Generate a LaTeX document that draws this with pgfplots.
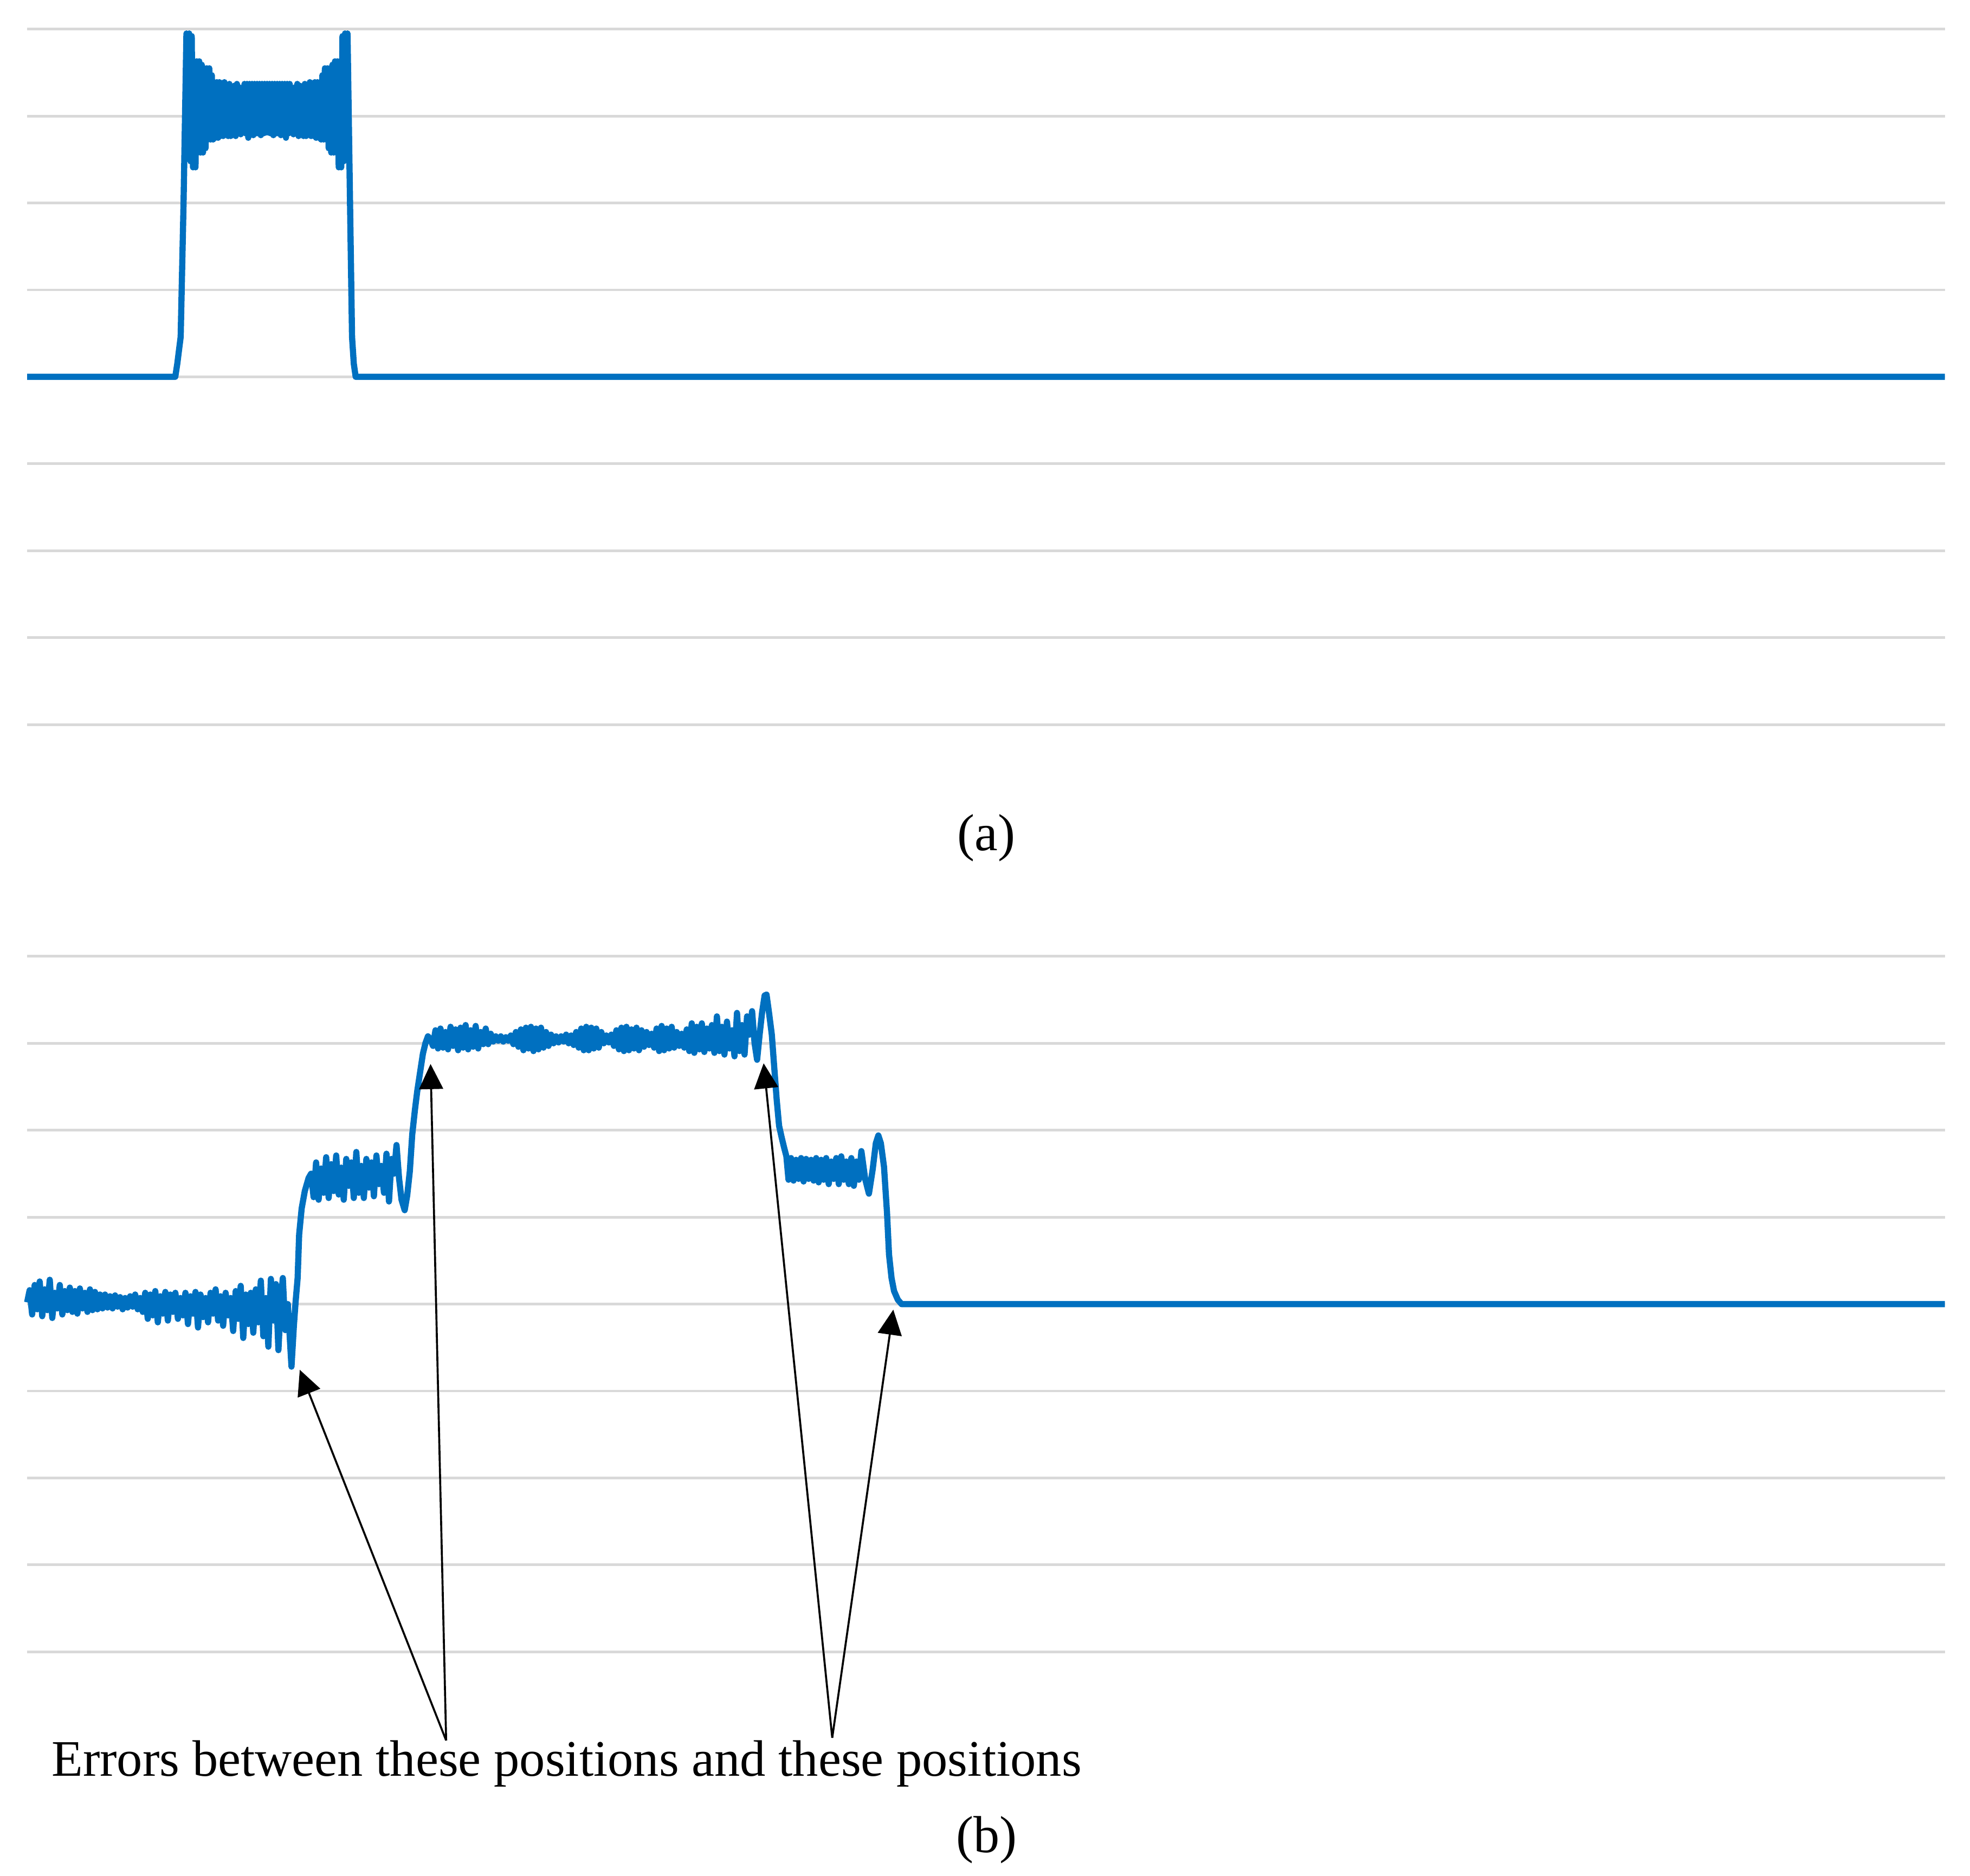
\documentclass[border=0pt]{standalone}
\usepackage{fontspec}
\setmainfont{Liberation Serif}
\usepackage{pgfplots}
\pgfplotsset{compat=1.18}
\usetikzlibrary{arrows.meta}
\definecolor{sigblue}{RGB}{0,112,192}
\definecolor{gridgray}{RGB}{217,217,217}
\pgfplotsset{panel/.style={
  scale only axis, width=152.64mm, height=55.36mm,
  xmin=0, xmax=1526.4, ymin=-4, ymax=4,
  anchor=south west, clip=false,
  axis line style={draw=none}, tick style={draw=none},
  xtick=\empty, ytick={-4,-3,...,4}, yticklabels={},
  ymajorgrids, grid style={draw=gridgray, line width=0.6pt},
}}
\begin{document}
\begin{tikzpicture}
\useasboundingbox (0,0) rectangle (156.8mm,149.3mm);
% ---------------- (a) ----------------
\begin{axis}[panel, at={(2.16mm,91.62mm)}]
\addplot[sigblue, line width=1.4pt, line join=round, no marks] coordinates {
(0,0) (117.9,0) (119.5,0.15) (122.2,0.46) (124.5,2.0) (126.8,3.95)
(128,2.63) (129,3.95) (130,2.48) (131,3.92) (132,2.41) (133,3.63) (134,2.41) (135,3.63)
(136,2.58) (137,3.63) (138,2.58) (139,3.59) (140,2.58) (141,3.55) (142,2.63) (143,3.55)
(144,2.73) (145,3.55) (146,2.73) (147,3.47) (148,2.73) (149,3.39) (150,2.75) (151,3.39)
(152,2.75) (153,3.39) (154,2.77) (155,3.37) (156,2.77) (157,3.39) (158,2.93) (159,3.35)
(160,2.77) (161,3.37) (162,2.77) (163,3.27) (164,2.93) (165,3.35) (166,2.77) (167,3.37)
(168,2.93) (169,3.33) (170,2.79) (171,3.17) (172,2.88) (173,3.37) (174,2.80) (175,3.37)
(176,2.75) (177,3.37) (178,2.80) (179,3.37) (180,2.78) (181,3.37) (182,2.80) (183,3.37)
(184,2.80) (185,3.37) (186,2.78) (187,3.37) (188,2.80) (189,3.37) (190,2.81) (191,3.37)
(192,2.81) (193,3.37) (194,2.80) (195,3.37) (196,2.78) (197,3.37) (198,2.80) (199,3.37)
(200,2.80) (201,3.37) (202,2.78) (203,3.37) (204,2.80) (205,3.37) (206,2.75) (207,3.37)
(208,2.80) (209,3.37) (210,2.88) (211,3.17) (212,2.79) (213,3.33) (214,2.93) (215,3.37)
(216,2.77) (217,3.35) (218,2.93) (219,3.27) (220,2.77) (221,3.37) (222,2.77) (223,3.35)
(224,2.93) (225,3.39) (226,2.77) (227,3.37) (228,2.77) (229,3.39) (230,2.75) (231,3.39)
(232,2.75) (233,3.39) (234,2.73) (235,3.47) (236,2.73) (237,3.55) (238,2.73) (239,3.55)
(240,2.63) (241,3.55) (242,2.58) (243,3.59) (244,2.58) (245,3.63) (246,2.58) (247,3.63)
(248,2.41) (249,3.63) (250,2.41) (251,3.92) (252,2.48) (253,3.95) (254,2.63) (255,3.95)
(257,2.0) (258.6,0.46) (260,0.15) (261.5,0) (1526.4,0)
};
\end{axis}
% ---------------- (b) ----------------
\begin{axis}[panel, at={(2.16mm,17.81mm)}]
\addplot[sigblue, line width=1.4pt, line join=round, no marks] coordinates {
(0,0.02) (2,0.16) (4,-0.12) (6,0.22) (8,-0.06) (10,0.26) (12,-0.14) (14,0.17)
(16,-0.07) (18,0.28) (20,-0.16) (22,0.13) (24,-0.05) (26,0.22) (28,-0.12) (30,0.15)
(32,-0.07) (34,0.19) (36,-0.09) (38,0.15) (40,-0.11) (42,0.18) (44,-0.05) (46,0.13)
(48,-0.09) (50,0.17) (52,-0.07) (54,0.14) (56,-0.06) (58,0.11) (60,-0.05) (62,0.11)
(64,-0.04) (66,0.09) (68,-0.05) (70,0.10) (72,-0.03) (74,0.08) (76,-0.06) (78,0.07)
(80,-0.04) (82,0.09) (84,-0.03) (86,0.11) (88,-0.06) (90,0.07) (92,-0.09) (94,0.13)
(96,-0.17) (98,0.11) (100,-0.13) (102,0.15) (104,-0.21) (106,0.09) (108,-0.11) (110,0.14)
(112,-0.19) (114,0.11) (116,-0.09) (118,0.13) (120,-0.17) (122,0.07) (124,-0.13) (126,0.13)
(128,-0.23) (130,0.09) (132,-0.11) (134,0.14) (136,-0.27) (138,0.11) (140,-0.15) (142,0.07)
(144,-0.21) (146,0.13) (148,-0.11) (150,0.17) (152,-0.19) (154,0.09) (156,-0.25) (158,0.13)
(160,-0.13) (162,0.07) (164,-0.31) (166,0.15) (168,-0.17) (170,0.21) (172,-0.39) (174,0.11)
(176,-0.23) (178,0.13) (180,-0.33) (182,0.17) (184,-0.21) (186,0.27) (188,-0.37) (190,0.07)
(192,-0.49) (194,0.29) (196,-0.19) (198,0.23) (200,-0.53) (202,0.05) (203.5,0.30) (205.5,-0.30)
(207.5,0.0) (210.4,-0.72) (212.3,-0.25) (213.7,0.03) (215.3,0.30) (216.5,0.80) (218.5,1.10)
(221,1.30) (224,1.45) (226,1.50)
(228,1.23) (230,1.63) (232,1.20) (234,1.56) (236,1.28) (238,1.69) (240,1.22) (242,1.61)
(244,1.30) (246,1.71) (248,1.26) (250,1.57) (252,1.20) (254,1.67) (256,1.36) (258,1.63)
(260,1.22) (262,1.75) (264,1.28) (266,1.59) (268,1.22) (270,1.67) (272,1.34) (274,1.63)
(276,1.24) (278,1.71) (280,1.38) (282,1.59) (284,1.28) (286,1.73) (288,1.18) (290,1.67)
(292,1.50) (294,1.83) (296,1.45) (298,1.20) (300.5,1.08) (302.5,1.25) (304.6,1.53)
(306.5,1.95) (308.7,2.24) (310.5,2.45) (312.8,2.67) (315,2.88) (317,3.00) (319,3.08) (321,3.05)
(323,2.97) (325,3.15) (327,2.94) (329,3.17) (331,2.95) (333,3.13) (335,2.93) (337,3.19)
(339,2.97) (341,3.16) (343,2.92) (345,3.18) (347,2.95) (349,3.21) (351,2.93) (353,3.15)
(355,2.96) (357,3.20) (359,2.94) (361,3.13) (363,2.99) (365,3.17) (367,2.99) (369,3.11)
(371,3.02) (373,3.08) (375,3.03) (377,3.08) (379,3.02) (381,3.07) (383,3.03) (385,3.09)
(387,2.99) (389,3.13) (391,2.96) (393,3.16) (395,2.92) (397,3.18) (399,2.94) (401,3.19)
(403,2.91) (405,3.17) (407,2.93) (409,3.18) (411,2.95) (413,3.13) (415,2.97) (417,3.10)
(419,3.00) (421,3.08) (423,3.01) (425,3.08) (427,3.02) (429,3.10) (431,3.00) (433,3.09)
(435,2.98) (437,3.13) (439,2.95) (441,3.17) (443,2.92) (445,3.19) (447,2.92) (449,3.18)
(451,2.94) (453,3.17) (455,2.95) (457,3.13) (459,3.00) (461,3.09) (463,3.01) (465,3.10)
(467,2.97) (469,3.15) (471,2.93) (473,3.18) (475,2.91) (477,3.19) (479,2.92) (481,3.16)
(483,2.94) (485,3.18) (487,2.92) (489,3.15) (491,2.96) (493,3.13) (495,2.98) (497,3.11)
(499,2.95) (501,3.17) (503,2.91) (505,3.20) (507,2.92) (509,3.17) (511,2.94) (513,3.19)
(515,2.95) (517,3.13) (519,2.97) (521,3.11) (523,2.95) (525,3.16) (527,2.91) (529,3.23)
(531,2.89) (533,3.19) (535,2.93) (537,3.23) (539,2.90) (541,3.17) (543,2.94) (545,3.21)
(547,2.89) (549,3.31) (551,2.91) (553,3.19) (555,2.87) (557,3.25) (559,2.94) (561,3.15)
(563,2.85) (565,3.35) (567,2.91) (569,3.21) (571,2.87) (573,3.31) (575,3.10) (577,3.37)
(579,3.00) (581,2.81) (583,3.10) (585,3.36) (587,3.55) (588.5,3.56) (590.5,3.35)
(592.7,3.10) (594.5,2.75) (596.6,2.35) (598.5,2.05) (600.5,1.92) (602.5,1.80) (604.3,1.70)
(606,1.43) (608,1.68) (610,1.42) (612,1.66) (614,1.44) (616,1.68) (618,1.41) (620,1.67)
(622,1.44) (624,1.66) (626,1.42) (628,1.68) (630,1.40) (632,1.66) (634,1.43) (636,1.68)
(638,1.38) (640,1.64) (642,1.44) (644,1.68) (646,1.38) (648,1.70) (650,1.43) (652,1.64)
(654,1.38) (656,1.68) (658,1.36) (660,1.64) (662,1.43) (664,1.76) (667,1.44) (670,1.27)
(673,1.55) (675.5,1.85) (677.5,1.94) (679.5,1.85) (682,1.58) (684.4,1.05) (686,0.57)
(688,0.30) (690,0.15) (693,0.05) (696,0) (1526.4,0)
};
\draw[line width=0.45pt, -{Triangle[length=2.0mm,width=1.9mm]}] (333.5,-5.02) -- (217.0,-0.756);
\draw[line width=0.45pt, -{Triangle[length=2.0mm,width=1.9mm]}] (333.5,-5.02) -- (321.1,2.762);
\draw[line width=0.45pt, -{Triangle[length=2.0mm,width=1.9mm]}] (640.8,-4.99) -- (586.2,2.770);
\draw[line width=0.45pt, -{Triangle[length=2.0mm,width=1.9mm]}] (640.8,-4.99) -- (689.4,-0.064);
\end{axis}
\node[anchor=base, font=\fontsize{11.8pt}{14pt}\selectfont, inner sep=0pt] at (78.52mm,81.61mm) {(a)};
\node[anchor=base, font=\fontsize{11.8pt}{14pt}\selectfont, inner sep=0pt] at (78.52mm,1.83mm) {(b)};
\node[anchor=base west, font=\fontsize{11.6pt}{14pt}\selectfont, inner sep=0pt] at (4.04mm,7.94mm) {Errors between these positions and these positions};
\end{tikzpicture}
\end{document}
